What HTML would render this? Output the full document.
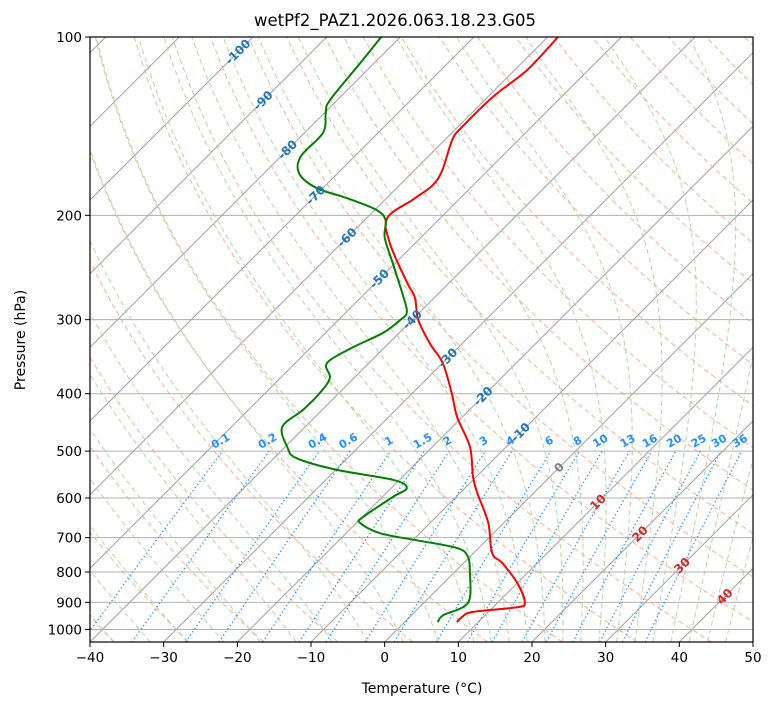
<!DOCTYPE html>
<html><head><meta charset="utf-8"><style>
body{margin:0;background:#fff;}
svg{display:block;font-family:"DejaVu Sans","Liberation Sans",sans-serif;}
</style></head><body>
<svg id="chart" width="775" height="708" viewBox="0 0 775 708" xmlns="http://www.w3.org/2000/svg">
<defs><clipPath id="clip"><rect x="90" y="37" width="663" height="605"/></clipPath></defs>
<rect x="0" y="0" width="775" height="708" fill="#fff"/>
<text x="395" y="26" text-anchor="middle" font-size="16.5">wetPf2_PAZ1.2026.063.18.23.G05</text>
<g id="plot" clip-path="url(#clip)"></g>
<g id="labels"></g>
<rect x="90" y="37" width="663" height="605" fill="none" stroke="#000" stroke-width="1.2"/>
<g id="axes"></g>
<text x="422" y="693" text-anchor="middle" font-size="14">Temperature (°C)</text>
<text transform="translate(25,340) rotate(-90)" text-anchor="middle" font-size="14">Pressure (hPa)</text>
</svg>
<script>
// ---- data ----
const tempP = [100,113.7,126,142,149,168,178,188,202,223,260,275,300,329,355,399,438,492,553,589,661,743,773,835,899,917,934,953,972];
const tempT = [-58.6,-58.3,-59.3,-59.4,-59.0,-56.2,-55.5,-56.2,-57.2,-53.4,-45.7,-42.7,-39.2,-34.4,-30.0,-24.7,-20.7,-14.9,-10.4,-7.6,-2.1,2.5,5.3,10.0,13.6,13.3,7.9,7.1,7.1];
const dewP = [100,110.6,127.7,134,145,159,170,180,187,196,204,218,241,271,291,300,316,334,355,376,399,426,455,492,514,538,559,577,598,646,661,688,707,729,755,803,882,917,946,972];
const dewT = [-82.6,-81.9,-81.0,-79.9,-77.5,-77.3,-75.2,-70.8,-65.4,-59.7,-57.1,-54.9,-50.3,-44.9,-41.8,-41.6,-42.2,-44.3,-45.7,-43.3,-42.6,-42.6,-43.1,-39.7,-36.9,-29.8,-20.9,-17.9,-18.6,-19.9,-19.5,-15.4,-9.5,-2.9,-0.2,2.2,5.5,5.9,4.3,4.5];
const xTicks = [-40,-30,-20,-10,0,10,20,30,40,50];
const pTicks = [100,200,300,400,500,600,700,800,900,1000];
const isoLabelT = [-100,-90,-80,-70,-60,-50,-40,-30,-20,-10,0,10,20,30,40];
const isoLabelP = [106,128,155,185,218,256,300,348,404,465,533,610,690,780,880];
const mixRatios = [0.1,0.2,0.4,0.6,1,1.5,2,3,4,6,8,10,13,16,20,25,30,36];
const dryT0 = [-40,-30,-20,-10,0,10,20,30,40,50,60,70,80,90,100,110,120,130,140,150,160,170,180,190,200];
const moistT0 = [-40,-35,-30,-25,-20,-15,-10,-5,0,5,10,12.5,15,17.5,20,22.5,25,27.5,30,32.5,35,37.5,40,42.5,45];

// ---- axes ----
const X0=90,X1=753,Y0=37,Y1=642,TMIN=-40,TMAX=50,PTOP=100,PBOT=1050;
const kx=(X1-X0)/(TMAX-TMIN);
function py(p){return Y0+(Math.log10(p)-Math.log10(PTOP))/(Math.log10(PBOT)-Math.log10(PTOP))*(Y1-Y0);}
function tx(T,p){const y=py(p);return X0+(T-TMIN)*kx+(Y1-y);}
const NS="http://www.w3.org/2000/svg";
const plot=document.getElementById('plot'),labels=document.getElementById('labels'),axes=document.getElementById('axes');
function mk(tag,attrs,parent){const e=document.createElementNS(NS,tag);for(const k in attrs)e.setAttribute(k,attrs[k]);parent.appendChild(e);return e;}
function polyPts(ps,ts){return ps.map((p,i)=>tx(ts[i],p).toFixed(1)+','+py(p).toFixed(1)).join(' ');}
function smoothPath(ps,ts){
  const pts=ps.map((p,i)=>[tx(ts[i],p),py(p)]);
  let d='M'+pts[0][0].toFixed(1)+','+pts[0][1].toFixed(1);
  for(let i=0;i<pts.length-1;i++){
    const p0=pts[Math.max(0,i-1)],p1=pts[i],p2=pts[i+1],p3=pts[Math.min(pts.length-1,i+2)];
    const c1=[p1[0]+(p2[0]-p0[0])/6,p1[1]+(p2[1]-p0[1])/6],c2=[p2[0]-(p3[0]-p1[0])/6,p2[1]-(p3[1]-p1[1])/6];
    d+=' C'+c1.map(v=>v.toFixed(1)).join(',')+' '+c2.map(v=>v.toFixed(1)).join(',')+' '+p2.map(v=>v.toFixed(1)).join(',');
  }
  return d;
}

pTicks.forEach(p=>{
  const l=mk('line',{x1:X0,x2:X1,y1:py(p),y2:py(p),stroke:'#b0b0b0','stroke-width':1},plot);
  
  
});
for(let T=-160;T<=50;T+=10){
  const l=mk('line',{x1:tx(T,PBOT),y1:py(PBOT),x2:tx(T,PTOP),y2:py(PTOP),stroke:'#a0a0a0','stroke-width':1},plot);
  
  
}
const pLevels=[];for(let p=PBOT;p>=PTOP-0.1;p-=10)pLevels.push(p);
dryT0.forEach(t0=>{
  const th=t0+273.15;
  const ts=pLevels.map(p=>th*Math.pow(p/1000,0.2857)-273.15);
  const l=mk('polyline',{points:polyPts(pLevels,ts),fill:'none',stroke:'#f4a582','stroke-width':1.1,'stroke-dasharray':'5,3.5',opacity:0.8},plot);
  
  
});
function dTdp(p,T){const es=6.112*Math.exp(17.67*(T-273.15)/(T-29.65));const rs=0.622*es/(p-es);
  const Rd=287.04,Cp=1005.7,Lv=2.501e6;return ((Rd*T+Lv*rs)/p)/(Cp+Lv*Lv*rs*0.622/(Rd*T*T));}
function moist(t0){
  const up=[],dn=[];let T=t0+273.15;
  for(let p=1000;p>=PTOP;p-=5){up.push([p,T-273.15]);const h=-5;const k1=dTdp(p,T);const k2=dTdp(p+h,T+h*k1);T+=h*(k1+k2)/2;}
  T=t0+273.15;for(let p=1000;p<=PBOT;p+=5){dn.unshift([p,T-273.15]);const h=5;const k1=dTdp(p,T);const k2=dTdp(p+h,T+h*k1);T+=h*(k1+k2)/2;}
  return dn.slice(0,-1).concat(up);
}
moistT0.forEach(t0=>{
  const arr=moist(t0);
  const l=mk('polyline',{points:polyPts(arr.map(a=>a[0]),arr.map(a=>a[1])),fill:'none',stroke:'#a9d3a0','stroke-width':1.1,'stroke-dasharray':'5,3.5',opacity:0.85},plot);
  
  
});
function tdFromW(w,p){const e=w*p/(0.622+w);const a=Math.log(e/6.112);return 243.5*a/(17.67-a);}
const mrP=[];for(let p=PBOT;p>=500;p-=10)mrP.push(p);
mixRatios.forEach(w=>{
  const ts=mrP.map(p=>tdFromW(w/1000,p));
  const l=mk('polyline',{points:polyPts(mrP,ts),fill:'none',stroke:'#1e90ff','stroke-width':1.3,'stroke-dasharray':'1.3,2.6'},plot);
  
  
  const x=tx(tdFromW(w/1000,500),500),y=py(500)-7;
  if(x<X1){
    const t=mk('text',{x:x,y:y,'font-size':11,'font-weight':'bold',fill:'#1e90ff','text-anchor':'middle',transform:'rotate(-30 '+x+' '+y+')'},labels);
    t.textContent=String(w);
    
    
  }
});
isoLabelT.forEach((T,i)=>{
  const p=isoLabelP[i];const x=tx(T,p),y=py(p)+4;
  const col=T<0?'#1f77b4':(T===0?'#7f7f7f':'#d62728');
  const t=mk('text',{x:x,y:y,'font-size':12,'font-weight':'bold',fill:col,'text-anchor':'middle',transform:'rotate(-45 '+x+' '+(y-4)+')'},labels);
  t.textContent=String(T);
  
  
});
const tl=mk('path',{d:smoothPath(tempP,tempT),fill:'none',stroke:'#ff0000','stroke-width':2,'stroke-linejoin':'round'},plot);


const dl=mk('path',{d:smoothPath(dewP,dewT),fill:'none',stroke:'#008000','stroke-width':2,'stroke-linejoin':'round'},plot);



xTicks.forEach(T=>{
  const x=X0+(T-TMIN)*kx;
  const l=mk('line',{x1:x,x2:x,y1:Y1,y2:Y1+5,stroke:'#000','stroke-width':1},axes);
  
  
  const t=mk('text',{x:x,y:Y1+20,'font-size':13.5,'text-anchor':'middle'},axes);
  t.textContent=(T<0?'\u2212'+(-T):String(T));
  
  
});
pTicks.forEach(p=>{
  const y=py(p);
  const l=mk('line',{x1:X0-5,x2:X0,y1:y,y2:y,stroke:'#000','stroke-width':1},axes);
  
  
  const t=mk('text',{x:X0-8,y:y+5,'font-size':13.5,'text-anchor':'end'},axes);
  t.textContent=String(p);
  
  
});
</script>
</body></html>
